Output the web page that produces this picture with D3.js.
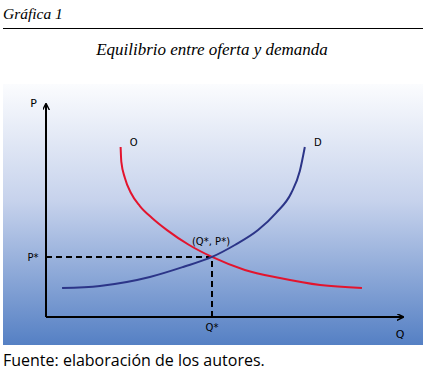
<!DOCTYPE html>
<html>
<head>
<meta charset="utf-8">
<script src="https://cdn.jsdelivr.net/npm/d3@7/dist/d3.min.js"></script>
<style>
  body { margin: 0; background: #fff; }
  svg text { fill: #000; }
  .hdr { font-family: "Liberation Serif", serif; font-style: italic; }
  .lbl { font-family: "DejaVu Sans", sans-serif; font-size: 10px; }
  .src { font-family: "Open Sans", sans-serif; font-size: 16px; }
</style>
</head>
<body>
<svg width="426" height="378"></svg>
<script>
// curve "O" (red) and "D" (blue), in chart units (Q, P)
const ofertaQ = [2.09, 2.11, 2.21, 2.38, 2.63, 2.97, 3.39, 4.01, 4.65, 5.57, 6.55, 7.68, 8.85];
const ofertaP = [7.98, 7.28, 6.53, 5.82, 5.21, 4.65, 4.08, 3.38, 2.82, 2.21, 1.83, 1.50, 1.36];
const demandaQ = [0.45, 1.51, 2.91, 3.84, 4.65, 5.29, 5.94, 6.44, 6.87, 7.11, 7.25];
const demandaP = [1.36, 1.46, 1.88, 2.35, 2.82, 3.38, 4.08, 4.88, 5.82, 6.85, 7.98];
const equilibrio = { q: 4.65, p: 2.82 };
const curveLabels = ['O', 'D'];

const svg = d3.select('svg');

// gradient background
const defs = svg.append('defs');
const grad = defs.append('linearGradient')
  .attr('id', 'bg').attr('x1', 0).attr('y1', 0).attr('x2', 0).attr('y2', 1);
grad.append('stop').attr('offset', '0%').attr('stop-color', '#fbfcfe');
grad.append('stop').attr('offset', '45%').attr('stop-color', '#c6d2ec');
grad.append('stop').attr('offset', '100%').attr('stop-color', '#5580c4');

defs.append('marker')
  .attr('id', 'arrow')
  .attr('viewBox', '0 0 10 10')
  .attr('refX', 9).attr('refY', 5)
  .attr('markerWidth', 7).attr('markerHeight', 7)
  .attr('markerUnits', 'userSpaceOnUse')
  .attr('orient', 'auto')
  .append('path')
  .attr('d', 'M0,0 L10,5 L0,10')
  .attr('fill', 'none').attr('stroke', '#000').attr('stroke-width', 2);

// header
svg.append('text').attr('class', 'hdr')
  .attr('x', 3).attr('y', 19).style('font-size', '15.5px')
  .text('Gráfica 1');
svg.append('line')
  .attr('x1', 3).attr('x2', 423).attr('y1', 28.5).attr('y2', 28.5)
  .attr('stroke', '#000').attr('stroke-width', 1);
svg.append('text').attr('class', 'hdr')
  .attr('x', 212).attr('y', 55).attr('text-anchor', 'middle').style('font-size', '17px')
  .text('Equilibrio entre oferta y demanda');

svg.append('rect')
  .attr('x', 3).attr('y', 84).attr('width', 420).attr('height', 261)
  .attr('fill', 'url(#bg)');

// scales
const x = d3.scaleLinear().domain([0, 10]).range([46, 403]);
const y = d3.scaleLinear().domain([0, 10]).range([317, 104]);

// axes (arrows)
svg.append('line')
  .attr('x1', x(0)).attr('y1', y(0)).attr('x2', x(0)).attr('y2', y(10))
  .attr('stroke', '#000').attr('stroke-width', 2).attr('marker-end', 'url(#arrow)');
svg.append('line')
  .attr('x1', x(0)).attr('y1', y(0)).attr('x2', x(10)).attr('y2', y(0))
  .attr('stroke', '#000').attr('stroke-width', 2).attr('marker-end', 'url(#arrow)');

svg.append('text').attr('class', 'lbl').style('font-size', '11px')
  .attr('x', x(0) - 9).attr('y', y(10) + 3).attr('text-anchor', 'end').text('P');
svg.append('text').attr('class', 'lbl').style('font-size', '11px')
  .attr('x', x(10) - 3).attr('y', y(0) + 21).attr('text-anchor', 'middle').text('Q');

// dashed guides
svg.append('path')
  .attr('d', `M${x(0)},${y(equilibrio.p)}H${x(equilibrio.q)}V${y(0)}`)
  .attr('fill', 'none').attr('stroke', '#000').attr('stroke-width', 2)
  .attr('stroke-dasharray', '6,4');

const line = d3.line()
  .x(d => x(d[0])).y(d => y(d[1]))
  .curve(d3.curveMonotoneX);

svg.append('path')
  .datum(ofertaQ.map((q, i) => [q, ofertaP[i]]))
  .attr('d', line)
  .attr('fill', 'none').attr('stroke', '#e3142d').attr('stroke-width', 2);

svg.append('path')
  .datum(demandaQ.map((q, i) => [q, demandaP[i]]))
  .attr('d', line)
  .attr('fill', 'none').attr('stroke', '#2c3588').attr('stroke-width', 2);

// labels
svg.append('text').attr('class', 'lbl')
  .attr('x', x(ofertaQ[0]) + 13).attr('y', y(ofertaP[0]) - 1)
  .attr('text-anchor', 'middle').text(curveLabels[0]);
svg.append('text').attr('class', 'lbl')
  .attr('x', x(demandaQ[demandaQ.length - 1]) + 13).attr('y', y(demandaP[demandaP.length - 1]) - 1)
  .attr('text-anchor', 'middle').text(curveLabels[1]);

svg.append('text').attr('class', 'lbl')
  .attr('x', x(equilibrio.q) - 1).attr('y', y(equilibrio.p) - 12)
  .attr('text-anchor', 'middle').text('(Q*, P*)');
svg.append('text').attr('class', 'lbl')
  .attr('x', x(0) - 13).attr('y', y(equilibrio.p) + 4)
  .attr('text-anchor', 'middle').text('P*');
svg.append('text').attr('class', 'lbl')
  .attr('x', x(equilibrio.q)).attr('y', y(0) + 14)
  .attr('text-anchor', 'middle').text('Q*');

// source
svg.append('text').attr('class', 'src')
  .attr('x', 3).attr('y', 366)
  .text('Fuente: elaboración de los autores.');
</script>
</body>
</html>
